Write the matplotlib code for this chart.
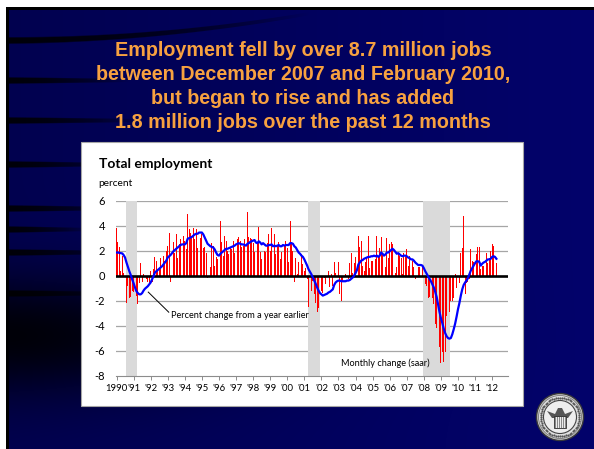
import numpy as np
import matplotlib
matplotlib.use("Agg")
import matplotlib.pyplot as plt
from matplotlib.patches import Rectangle, Circle, Polygon

plt.rcParams["axes.unicode_minus"] = False

# ---------------------------------------------------------------- data
start_year = 1990

# Monthly change in total payroll employment, percent at a seasonally
# adjusted annual rate, Jan 1990 - Apr 2012 (one row per year)
monthly_change_saar = [
    3.8, 2.7, 2.3, 0.4, 1.6, 0.2, -0.4, -2.2, -0.8, -1.8, -1.7, -1.2,   # 1990
    -1.3, -3.3, -1.6, -2.3, -0.6, 1.0, -0.5, 0.1, 0.3, -0.3, -0.5, -0.6, # 1991
    0.4, -0.5, 0.5, 1.5, 1.2, 0.5, 0.6, 1.4, 0.6, 1.6, 1.2, 2.0,        # 1992
    2.4, 3.4, -0.5, 3.2, 2.7, 1.8, 3.3, 1.4, 2.5, 2.9, 3.0, 3.2,        # 1993
    2.8, 2.1, 4.9, 3.7, 3.4, 3.2, 3.8, 2.9, 3.7, 2.2, 4.5, 3.0,         # 1994
    3.3, 2.2, 2.3, 1.8, -0.2, 2.4, 0.7, 2.6, 2.4, 0.8, 1.5, 1.3,        # 1995
    -0.2, 4.4, 2.7, 1.6, 3.2, 2.8, 2.0, 1.7, 2.3, 2.1, 2.8, 1.8,        # 1996
    2.3, 2.9, 3.1, 2.8, 2.3, 2.4, 2.9, -0.2, 5.1, 3.1, 3.0, 2.9,        # 1997
    2.6, 1.9, 1.4, 2.7, 3.9, 1.9, 1.3, 2.6, 2.0, 1.9, 2.6, 3.3,         # 1998
    2.0, 3.8, 0.9, 3.3, 1.7, 2.4, 2.7, 1.3, 1.9, 3.8, 2.4, 2.8,         # 1999
    2.2, 1.1, 4.4, 2.7, 2.0, -0.5, 1.4, 0.1, 1.1, -0.1, 1.7, 0.9,       # 2000
    0.4, 0.6, -0.3, -2.5, -0.4, -1.2, -0.4, -1.5, -2.2, -2.9, -2.6, -1.6,  # 2001
    -1.2, -1.4, -0.2, -0.7, -0.1, 0.4, -0.9, 0.1, -0.8, 1.1, 0.2, -1.4,    # 2002
    1.1, -1.5, -2.0, -0.5, -0.1, 0.1, 0.2, -0.3, 1.0, 1.8, 0.2, 1.0,    # 2003
    1.5, 0.4, 3.2, 2.3, 2.8, 0.8, 0.4, 1.1, 1.5, 3.2, 0.6, 1.2,         # 2004
    1.2, 2.2, 1.3, 3.2, 1.5, 2.2, 3.1, 1.7, 0.6, 0.7, 3.0, 1.4,         # 2005
    2.5, 2.7, 2.5, 1.6, 0.2, 0.7, 1.8, 1.6, 1.4, 0.1, 1.8, 1.5,         # 2006
    2.1, 0.8, 1.6, 0.7, 1.2, 0.7, -0.3, -0.1, 0.7, 0.7, 1.0, 0.8,       # 2007
    -0.1, -0.7, -0.8, -1.8, -1.7, -1.5, -1.8, -2.3, -3.9, -4.2, -6.9, -5.7,  # 2008
    -7.0, -6.1, -6.9, -6.1, -3.2, -4.3, -2.9, -2.0, -2.0, -1.8, 0.1, -1.0,   # 2009
    -0.2, -0.6, 1.8, 2.2, 4.8, -1.5, -0.6, -0.5, -0.3, 2.1, 1.2, 1.1,   # 2010
    0.6, 1.7, 2.3, 2.3, 0.5, 0.8, 0.8, 1.0, 1.8, 1.0, 1.4, 2.0,         # 2011
    2.5, 2.4, 1.3, 1.0,                                                 # 2012
]

# Percent change from a year earlier, same months
yoy_change = [
    1.85, 1.85, 1.82, 1.80, 1.78, 1.65, 1.45, 1.05, 0.70, 0.35, 0.05, -0.30,   # 1990
    -0.60, -0.95, -1.25, -1.40, -1.50, -1.50, -1.40, -1.20, -1.05, -0.95, -0.85, -0.70,  # 1991
    -0.55, -0.30, -0.05, 0.25, 0.35, 0.45, 0.55, 0.65, 0.75, 0.90, 1.05, 1.20,  # 1992
    1.45, 1.55, 1.65, 1.80, 1.95, 2.05, 2.15, 2.25, 2.35, 2.45, 2.50, 2.50,     # 1993
    2.50, 2.60, 2.95, 3.00, 3.05, 3.10, 3.20, 3.30, 3.35, 3.35, 3.45, 3.45,     # 1994
    3.45, 3.30, 3.05, 2.80, 2.55, 2.45, 2.35, 2.30, 2.25, 2.10, 1.85, 1.65,     # 1995
    1.60, 1.75, 1.85, 1.95, 2.05, 2.15, 2.15, 2.20, 2.25, 2.30, 2.35, 2.40,     # 1996
    2.50, 2.55, 2.60, 2.55, 2.50, 2.50, 2.45, 2.40, 2.55, 2.60, 2.70, 2.75,     # 1997
    2.80, 2.85, 2.65, 2.60, 2.75, 2.65, 2.50, 2.60, 2.50, 2.40, 2.40, 2.45,     # 1998
    2.45, 2.50, 2.35, 2.40, 2.35, 2.40, 2.45, 2.35, 2.35, 2.45, 2.40, 2.45,     # 1999
    2.45, 2.45, 2.60, 2.60, 2.55, 2.35, 2.25, 2.05, 1.85, 1.75, 1.60, 1.50,     # 2000
    1.30, 1.05, 0.80, 0.50, 0.30, 0.10, -0.15, -0.40, -0.65, -0.95, -1.20, -1.40,  # 2001
    -1.50, -1.60, -1.55, -1.50, -1.45, -1.35, -1.30, -1.20, -1.10, -0.75, -0.55, -0.45,  # 2002
    -0.40, -0.40, -0.45, -0.45, -0.45, -0.45, -0.40, -0.40, -0.35, -0.25, -0.15, 0.00,  # 2003
    0.20, 0.45, 0.90, 1.05, 1.20, 1.25, 1.35, 1.40, 1.45, 1.50, 1.50, 1.55,     # 2004
    1.55, 1.60, 1.55, 1.60, 1.50, 1.60, 1.85, 1.75, 1.60, 1.70, 1.85, 1.85,     # 2005
    1.95, 2.05, 2.15, 2.05, 1.90, 1.75, 1.80, 1.70, 1.60, 1.55, 1.60, 1.60,     # 2006
    1.55, 1.45, 1.40, 1.30, 1.30, 1.20, 1.05, 0.95, 0.85, 0.85, 0.85, 0.80,     # 2007
    0.60, 0.35, 0.15, -0.05, -0.25, -0.45, -0.70, -0.95, -1.30, -1.70, -2.30, -2.90,  # 2008
    -3.40, -3.80, -4.25, -4.60, -4.85, -5.00, -5.05, -5.00, -4.70, -4.30, -3.85, -3.30,  # 2009
    -2.70, -2.20, -1.60, -1.10, -0.75, -0.55, -0.40, -0.20, 0.10, 0.40, 0.60, 0.80,  # 2010
    1.00, 1.15, 1.15, 1.10, 0.80, 0.95, 1.05, 1.10, 1.20, 1.30, 1.30, 1.35,     # 2011
    1.50, 1.55, 1.50, 1.35,                                                     # 2012
]

# NBER recessions (decimal years)
recession_start = [1990.56, 2001.21, 2007.98]
recession_end = [1991.21, 2001.90, 2009.55]

year_ticks = list(range(1990, 2013))
year_labels = ["1990"] + ["'%02d" % (y % 100) for y in range(1991, 2013)]
y_ticks = [-8, -6, -4, -2, 0, 2, 4, 6]

title_lines = [
    "Employment fell by over 8.7 million jobs",
    "between December 2007 and February 2010,",
    "but began to rise and has added",
    "1.8 million jobs over the past 12 months",
]

# ---------------------------------------------------------------- figure
W, H = 594, 449
DPI = 100
fig = plt.figure(figsize=(W / DPI, H / DPI), dpi=DPI)


def fx(x):
    return x / W


def fy(y):
    return 1 - y / H


# slide background drawn as an RGB image in pixel space
bg = fig.add_axes([0, 0, 1, 1])
bg.set_xlim(0, W)
bg.set_ylim(H, 0)
bg.axis("off")

yy, xx = np.mgrid[0:H, 0:W].astype(float)
blue = 0.31 + 0.11 * (xx / W)
# darker sweep in the lower left
shade = 0.9 * np.exp(-(xx / 230.0) ** 2) * np.exp(-((yy - 335) / 60.0) ** 2)
blue *= (1 - shade)


def add_stripe(img, y_left, thick, x_end, rise=0.0, rise_pow=2.0):
    yc = y_left - rise * (xx / x_end) ** rise_pow
    fade = np.clip(1 - (xx / x_end) ** 2, 0, 1)
    th = thick * (1 - 0.5 * xx / x_end)
    band = np.clip(1 - np.abs(yy - yc) / (th / 2.0 + 0.01), 0, 1)
    band = np.clip(band * 2.5, 0, 1)
    return img * (1 - 0.88 * band * fade)


blue = add_stripe(blue, 40, 8, 310, rise=27)
for y_left, x_end in [(80, 130), (120, 140), (164, 120), (208, 120), (229, 90),
                      (252, 120), (293, 120)]:
    blue = add_stripe(blue, y_left, 8, x_end)

img = np.zeros((H, W, 3))
img[..., 2] = blue
img[..., 0] = 0.02 * blue
img[..., 1] = 0.02 * blue
# white margin and black frame
img[0:7, :, :] = 1.0
img[:, 0:6, :] = 1.0
img[7:10, 6:, :] = 0.0
img[7:, 6:9, :] = 0.0
bg.imshow(img, extent=(0, W, H, 0), interpolation="bilinear", zorder=0)

# title
title_y = [50, 74, 98, 122]
for line, ty in zip(title_lines, title_y):
    fig.text(fx(303), fy(ty), line, ha="center", va="center",
             fontsize=14.2, fontweight="bold", color="#f7a140",
             family="Liberation Sans")

# seal of the Federal Reserve
cx, cy = 560, 417
bg.add_patch(Circle((cx, cy), 23.5, facecolor="#c8c8c8", edgecolor="#3a3a3a",
                    lw=1.0, zorder=2))
bg.add_patch(Circle((cx, cy), 21.5, facecolor="#e0e0e0", edgecolor="#777777",
                    lw=0.6, zorder=2))
ang = np.linspace(0, 2 * np.pi, 60, endpoint=False)
bg.scatter(cx + 19.3 * np.cos(ang), cy + 19.3 * np.sin(ang), s=2.5,
           color="#555555", lw=0, zorder=3)
bg.add_patch(Circle((cx, cy), 16.5, facecolor="#eeeeee", edgecolor="#444444",
                    lw=0.8, zorder=3))
bg.add_patch(Polygon([[cx - 13, cy - 6], [cx - 5, cy - 3], [cx - 2, cy - 9],
                      [cx + 2, cy - 9], [cx + 5, cy - 3], [cx + 13, cy - 6],
                      [cx + 8, cy + 1], [cx - 8, cy + 1]],
                     closed=True, facecolor="#555555", edgecolor="none",
                     zorder=4))
bg.add_patch(Rectangle((cx - 6, cy - 1), 12, 12, facecolor="#8a8a8a",
                       edgecolor="#333333", lw=0.6, zorder=4))
for k in range(-4, 5, 2):
    bg.plot([cx + k, cx + k], [cy, cy + 10], color="#f0f0f0", lw=0.7, zorder=5)

# white chart panel
bg.add_patch(Rectangle((81, 142), 442, 264, facecolor="white",
                       edgecolor="#a6a6a6", lw=0.8, zorder=5))

txt_font = ["Lato", "DejaVu Sans"]
fig.text(fx(99), fy(164), "Total employment", ha="left", va="center",
         fontsize=10, fontweight="bold", color="black", family=txt_font)
fig.text(fx(98), fy(184), "percent", ha="left", va="center",
         fontsize=7.3, color="black", family=txt_font)

# ---------------------------------------------------------------- chart
ax = fig.add_axes([fx(116), fy(375.5), fx(508) - fx(116), fy(200.7) - fy(375.5)])
ax.set_facecolor("none")
ax.set_xlim(1990 - 0.03, 2012.93)
ax.set_ylim(-8, 6)

dates = start_year + np.arange(len(monthly_change_saar)) / 12.0

for gy in y_ticks:
    if gy not in (0, -8):
        ax.axhline(gy, color="#a6a6a6", lw=0.9, zorder=1)

for s, e in zip(recession_start, recession_end):
    ax.axvspan(s, e, color="#dadada", lw=0, zorder=1.5)

ax.bar(dates, monthly_change_saar, width=0.62 / 12, color="#ff0000",
       linewidth=0, zorder=3)
ax.axhline(0, color="black", lw=1.9, zorder=3.5)
ax.plot(dates, yoy_change, color="#0000ff", lw=1.6, zorder=4,
        solid_joinstyle="round")

for sp in ("top", "right", "left"):
    ax.spines[sp].set_visible(False)
ax.spines["bottom"].set_color("#8c8c8c")
ax.spines["bottom"].set_linewidth(0.8)

ax.set_yticks(y_ticks)
ax.set_yticklabels([str(v) for v in y_ticks], family=txt_font, fontsize=8)
ax.tick_params(axis="y", length=0, pad=8)
ax.set_xticks(year_ticks)
ax.set_xticklabels(year_labels, family=txt_font, fontsize=6.9)
ax.tick_params(axis="x", length=3, width=0.7, color="#8c8c8c", pad=3,
               direction="out")

# annotations
ax.plot([1991.86, 1993.06], [-1.32, -2.93], color="black", lw=0.7, zorder=5)
ax.text(1993.22, -3.17, "Percent change from a year earlier", ha="left",
        va="center", fontsize=6.6, family=txt_font, color="black")
ax.text(2003.17, -7.03, "Monthly change (saar)", ha="left", va="center",
        fontsize=6.6, family=txt_font, color="black")

fig.savefig("out.png", dpi=DPI)
